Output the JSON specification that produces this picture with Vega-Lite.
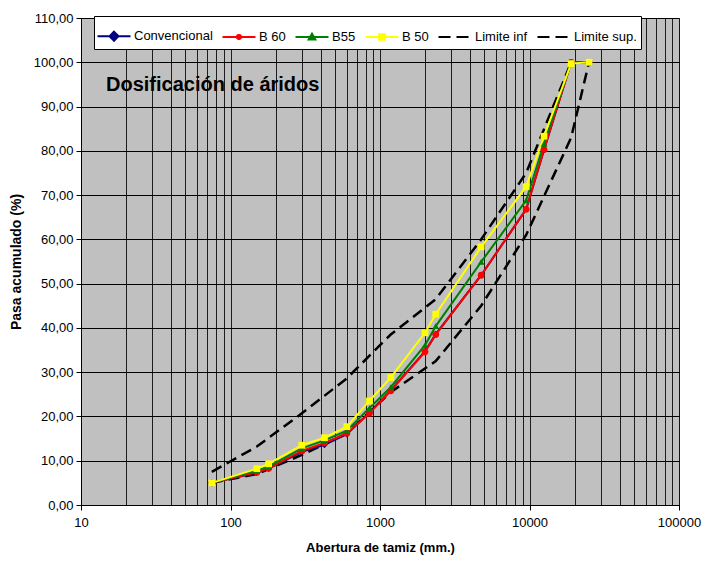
{
  "$schema": "https://vega.github.io/schema/vega-lite/v6.json",
  "width": 598,
  "height": 487,
  "autosize": {"type": "none"},
  "padding": {"left": 81, "top": 18, "right": 23, "bottom": 61},
  "background": "white",
  "config": {
    "view": {"fill": "#c0c0c0", "stroke": "#808080", "strokeWidth": 1},
    "font": "Liberation Sans"
  },
  "data": {
    "values": [
      {"s": "Convencional", "x": 75, "y": 5.0}, {"s": "Convencional", "x": 150, "y": 7.3}, {"s": "Convencional", "x": 180, "y": 8.2}, {"s": "Convencional", "x": 300, "y": 12.0}, {"s": "Convencional", "x": 425, "y": 13.6}, {"s": "Convencional", "x": 600, "y": 16.0}, {"s": "Convencional", "x": 850, "y": 20.9}, {"s": "Convencional", "x": 1180, "y": 25.9}, {"s": "Convencional", "x": 2000, "y": 34.7}, {"s": "Convencional", "x": 2360, "y": 38.6}, {"s": "Convencional", "x": 4750, "y": 51.9}, {"s": "Convencional", "x": 9500, "y": 66.8}, {"s": "Convencional", "x": 12500, "y": 80.2}, {"s": "Convencional", "x": 19000, "y": 100}, {"s": "Convencional", "x": 25000, "y": 100},
      {"s": "B 60", "x": 75, "y": 5.0}, {"s": "B 60", "x": 150, "y": 7.4}, {"s": "B 60", "x": 180, "y": 8.3}, {"s": "B 60", "x": 300, "y": 12.2}, {"s": "B 60", "x": 425, "y": 14.0}, {"s": "B 60", "x": 600, "y": 16.2}, {"s": "B 60", "x": 850, "y": 20.7}, {"s": "B 60", "x": 1180, "y": 25.8}, {"s": "B 60", "x": 2000, "y": 34.6}, {"s": "B 60", "x": 2360, "y": 38.5}, {"s": "B 60", "x": 4750, "y": 51.9}, {"s": "B 60", "x": 9500, "y": 66.8}, {"s": "B 60", "x": 12500, "y": 80.3}, {"s": "B 60", "x": 19000, "y": 100}, {"s": "B 60", "x": 25000, "y": 100},
      {"s": "B55", "x": 75, "y": 5.0}, {"s": "B55", "x": 150, "y": 7.8}, {"s": "B55", "x": 180, "y": 8.7}, {"s": "B55", "x": 300, "y": 12.8}, {"s": "B55", "x": 425, "y": 14.6}, {"s": "B55", "x": 600, "y": 16.8}, {"s": "B55", "x": 850, "y": 21.9}, {"s": "B55", "x": 1180, "y": 26.6}, {"s": "B55", "x": 2000, "y": 36.1}, {"s": "B55", "x": 2360, "y": 40.4}, {"s": "B55", "x": 4750, "y": 54.9}, {"s": "B55", "x": 9500, "y": 68.8}, {"s": "B55", "x": 12500, "y": 81.6}, {"s": "B55", "x": 19000, "y": 100}, {"s": "B55", "x": 25000, "y": 100},
      {"s": "B 50", "x": 75, "y": 5.0}, {"s": "B 50", "x": 150, "y": 8.2}, {"s": "B 50", "x": 180, "y": 9.3}, {"s": "B 50", "x": 300, "y": 13.5}, {"s": "B 50", "x": 425, "y": 15.2}, {"s": "B 50", "x": 600, "y": 17.7}, {"s": "B 50", "x": 850, "y": 23.5}, {"s": "B 50", "x": 1180, "y": 28.8}, {"s": "B 50", "x": 2000, "y": 38.9}, {"s": "B 50", "x": 2360, "y": 43.1}, {"s": "B 50", "x": 4750, "y": 58.3}, {"s": "B 50", "x": 9500, "y": 71.9}, {"s": "B 50", "x": 12500, "y": 83.3}, {"s": "B 50", "x": 19000, "y": 99.7}, {"s": "B 50", "x": 25000, "y": 100},
      {"s": "Limite inf", "x": 75, "y": 5.0}, {"s": "Limite inf", "x": 150, "y": 7.0}, {"s": "Limite inf", "x": 300, "y": 11.3}, {"s": "Limite inf", "x": 600, "y": 16.2}, {"s": "Limite inf", "x": 1180, "y": 25.5}, {"s": "Limite inf", "x": 2360, "y": 32.5}, {"s": "Limite inf", "x": 4750, "y": 45.0}, {"s": "Limite inf", "x": 9500, "y": 61.0}, {"s": "Limite inf", "x": 19000, "y": 83.0}, {"s": "Limite inf", "x": 25000, "y": 100},
      {"s": "Limite sup.", "x": 75, "y": 7.5}, {"s": "Limite sup.", "x": 150, "y": 13.2}, {"s": "Limite sup.", "x": 300, "y": 20.7}, {"s": "Limite sup.", "x": 600, "y": 28.6}, {"s": "Limite sup.", "x": 1180, "y": 38.5}, {"s": "Limite sup.", "x": 2360, "y": 46.5}, {"s": "Limite sup.", "x": 4750, "y": 60.0}, {"s": "Limite sup.", "x": 9500, "y": 75.0}, {"s": "Limite sup.", "x": 19000, "y": 100}, {"s": "Limite sup.", "x": 25000, "y": 100}
    ]
  },
  "encoding": {
    "x": {
      "field": "x", "type": "quantitative",
      "scale": {"type": "log", "domain": [10, 100000], "nice": false},
      "axis": {
        "title": "Abertura de tamiz (mm.)",
        "titleFont": "Liberation Sans", "titleFontSize": 13, "titleFontWeight": "bold", "titleColor": "black", "titlePadding": 12,
        "values": [10,20,30,40,50,60,70,80,90,100,200,300,400,500,600,700,800,900,1000,2000,3000,4000,5000,6000,7000,8000,9000,10000,20000,30000,40000,50000,60000,70000,80000,90000,100000],
        "labelExpr": "indexof([10,100,1000,10000,100000], datum.value) >= 0 ? format(datum.value, 'd') : ''",
        "labelOverlap": false, "labelFlush": false,
        "labelFont": "Liberation Sans", "labelFontSize": 13, "labelColor": "black", "labelPadding": 6,
        "grid": true, "gridColor": "black", "gridWidth": 1, "gridOpacity": 0.85,
        "domainColor": "black", "domainWidth": 1,
        "tickColor": "black", "tickSize": 5,
        "tickOpacity": {"condition": {"test": "indexof([10,100,1000,10000,100000], datum.value) >= 0", "value": 1}, "value": 0}
      }
    },
    "y": {
      "field": "y", "type": "quantitative",
      "scale": {"domain": [0, 110], "nice": false},
      "axis": {
        "title": "Pasa acumulado (%)",
        "titleFont": "Liberation Sans", "titleFontSize": 14, "titleFontWeight": "bold", "titleColor": "black", "titlePadding": 10,
        "values": [0,10,20,30,40,50,60,70,80,90,100,110],
        "labelExpr": "replace(format(datum.value, '.2f'), '.', ',')",
        "labelFont": "Liberation Sans", "labelFontSize": 13, "labelColor": "black", "labelPadding": 3,
        "grid": true, "gridColor": "black", "gridWidth": 1,
        "domainColor": "black", "tickColor": "black", "tickSize": 5
      }
    }
  },
  "layer": [
    {
      "transform": [{"filter": "indexof(['Limite inf','Limite sup.'], datum.s) >= 0"}],
      "mark": {"type": "line", "strokeWidth": 2.5, "strokeDash": [11, 6]},
      "encoding": {
        "color": {
          "field": "s", "type": "nominal",
          "scale": {"domain": ["Convencional", "B 60", "B55", "B 50", "Limite inf", "Limite sup."], "range": ["#000080", "#ff0000", "#008000", "#ffff00", "#000000", "#000000"]},
          "legend": {
            "orient": "none", "legendX": 13, "legendY": -2, "direction": "horizontal", "columns": 6,
            "title": null, "fillColor": "white", "strokeColor": "black", "padding": 4,
            "labelFont": "Liberation Sans", "labelFontSize": 13, "labelColor": "black", "labelOffset": 4,
            "columnPadding": 5, "symbolSize": 900, "symbolStrokeWidth": 2,
            "encode": {
              "symbols": {
                "update": {
                  "shape": {"signal": "datum.value == 'Convencional' ? 'M-1.1,0H1.1M0,-0.3L0.3,0L0,0.3L-0.3,0Z' : datum.value == 'B 60' ? 'M-1.1,0H1.1M0.14,0A0.14,0.14,0,1,1,-0.14,0A0.14,0.14,0,1,1,0.14,0Z' : datum.value == 'B55' ? 'M-1.1,0H1.1M0,-0.22L0.22,0.16L-0.22,0.16Z' : datum.value == 'B 50' ? 'M-1.1,0H1.1M-0.19,-0.19H0.19V0.19H-0.19Z' : 'M-1.1,0H1.1'"},
                  "fill": {"scale": "color", "field": "value"},
                  "stroke": {"scale": "color", "field": "value"},
                  "strokeDash": {"signal": "indexof(datum.value, 'Limite') == 0 ? [12, 6] : [1, 0]"},
                  "strokeWidth": {"value": 2},
                  "opacity": {"value": 1}
                }
              }
            }
          }
        }
      }
    },
    {
      "transform": [{"filter": "indexof(['Limite inf','Limite sup.'], datum.s) < 0"}],
      "mark": {"type": "line", "strokeWidth": 2},
      "encoding": {
        "color": {"field": "s", "type": "nominal"}
      }
    },
    {
      "transform": [{"filter": "indexof(['Limite inf','Limite sup.'], datum.s) < 0"}],
      "mark": {"type": "point", "filled": true, "opacity": 1, "size": 45},
      "encoding": {
        "color": {"field": "s", "type": "nominal"},
        "shape": {"field": "s", "type": "nominal", "scale": {"domain": ["Convencional", "B 60", "B55", "B 50"], "range": ["diamond", "circle", "triangle-up", "square"]}, "legend": null}
      }
    },
    {
      "data": {"values": [{"t": "Dosificación de áridos", "x": 14.7, "y": 94.8}]},
      "mark": {"type": "text", "align": "left", "baseline": "middle", "font": "Liberation Sans", "fontSize": 20, "fontWeight": "bold", "color": "black"},
      "encoding": {"text": {"field": "t"}}
    }
  ]
}
